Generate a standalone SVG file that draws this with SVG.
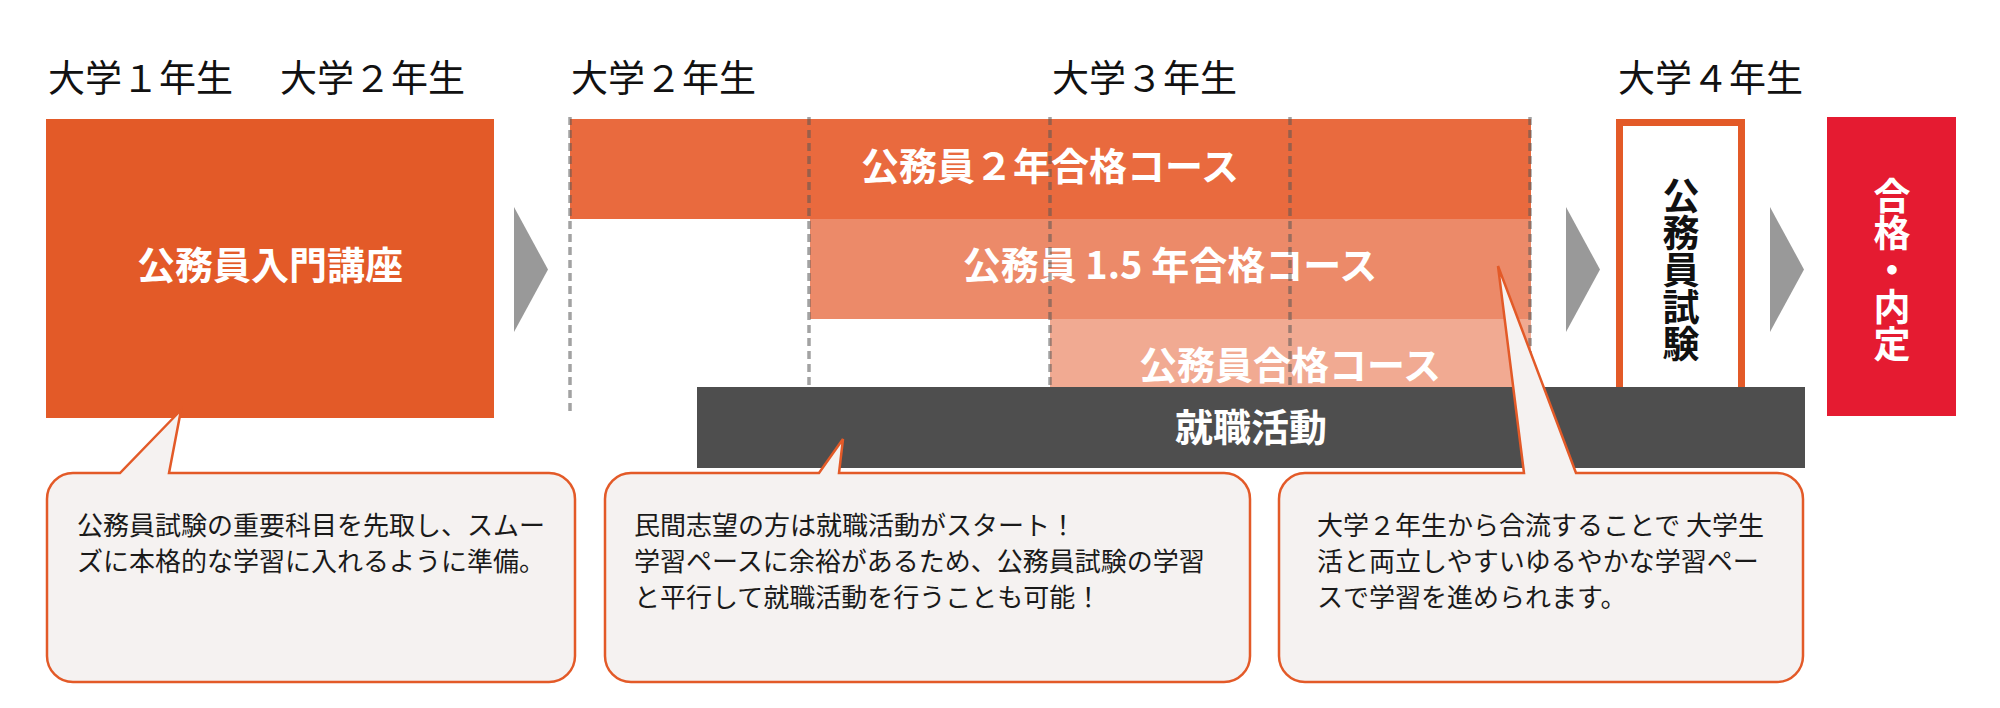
<svg xmlns="http://www.w3.org/2000/svg" width="2000" height="708" viewBox="0 0 2000 708">
<style>
text{font-family:"Noto Sans CJK JP","Noto Sans",sans-serif}
.yr{font-size:37px;fill:#111}
.lbl{font-size:38px;font-weight:700;fill:#fff;text-anchor:middle}
.vt{font-size:37px;font-weight:700;writing-mode:vertical-rl}
.note{font-size:26px;fill:#1a1a1a}
.arrow{fill:#999}
.dash{stroke:#555;stroke-opacity:.55;stroke-width:3.5;stroke-dasharray:8 5;fill:none}
.callout{fill:#F5F2F1;stroke:#E35A28;stroke-width:2.5;stroke-linejoin:miter}
</style>
<rect width="2000" height="708" fill="#fff"/>
<g id="years">
<text class="yr" x="48" y="92">大学１年生</text>
<text class="yr" x="280" y="92">大学２年生</text>
<text class="yr" x="571" y="92">大学２年生</text>
<text class="yr" x="1052" y="92">大学３年生</text>
<text class="yr" x="1618" y="92">大学４年生</text>
</g>
<g id="node-intro">
<rect x="46" y="119" width="448" height="299" fill="#E35A28"/>
<text class="lbl" x="270" y="279">公務員入門講座</text>
</g>
<g id="connectors">
<polygon class="arrow" points="514,207 548,269.5 514,332"/>
<polygon class="arrow" points="1566,207 1600,269.5 1566,332"/>
<polygon class="arrow" points="1770,207 1804,269.5 1770,332"/>
</g>
<g id="node-course2">
<rect x="570" y="119" width="961" height="100" fill="#E96A3E"/>
<text class="lbl" x="1050" y="180">公務員２年合格コース</text>
</g>
<g id="node-course15">
<rect x="810" y="219" width="721" height="100" fill="#EC8A69"/>
<text class="lbl" x="1170" y="279">公務員 1.5 年合格コース</text>
</g>
<g id="node-course">
<rect x="1050" y="319" width="481" height="68" fill="#F1AA92"/>
<text class="lbl" x="1290" y="379">公務員合格コース</text>
</g>
<g id="gridlines">
<line class="dash" x1="570" y1="117" x2="570" y2="416"/>
<line class="dash" x1="809" y1="117" x2="809" y2="387"/>
<line class="dash" x1="1050" y1="117" x2="1050" y2="387"/>
<line class="dash" x1="1290" y1="117" x2="1290" y2="387"/>
<line class="dash" x1="1530" y1="117" x2="1530" y2="387"/>
</g>
<g id="node-exam">
<rect x="1619.5" y="122.5" width="122" height="280" fill="#fff" stroke="#E35A28" stroke-width="7"/>
<text class="vt" x="1681" y="177" fill="#111">公務員試験</text>
</g>
<g id="node-job">
<rect x="697" y="387" width="1108" height="81" fill="#4E4E4E"/>
<text class="lbl" x="1251" y="441">就職活動</text>
</g>
<g id="node-pass">
<rect x="1827" y="117" width="129" height="299" fill="#E51B31"/>
<text class="vt" x="1892" y="177" fill="#fff">合格・内定</text>
</g>
<g id="callout-1">
<path class="callout" d="M73,473 L120,473 L181,410 L169,473 L549,473 A26,26 0 0 1 575,499 L575,656 A26,26 0 0 1 549,682 L73,682 A26,26 0 0 1 47,656 L47,499 A26,26 0 0 1 73,473 Z"/>
<text class="note" x="77" y="535">公務員試験の重要科目を先取し、スムー</text>
<text class="note" x="77" y="571">ズに本格的な学習に入れるように準備。</text>
</g>
<g id="callout-2">
<path class="callout" d="M631,473 L819,473 L843,439 L839,473 L1224,473 A26,26 0 0 1 1250,499 L1250,656 A26,26 0 0 1 1224,682 L631,682 A26,26 0 0 1 605,656 L605,499 A26,26 0 0 1 631,473 Z"/>
<text class="note" x="634" y="535">民間志望の方は就職活動がスタート！</text>
<text class="note" x="634" y="571">学習ペースに余裕があるため、公務員試験の学習</text>
<text class="note" x="634" y="607">と平行して就職活動を行うことも可能！</text>
</g>
<g id="callout-3">
<path class="callout" d="M1305,473 L1524,473 L1498,266 L1576,473 L1777,473 A26,26 0 0 1 1803,499 L1803,656 A26,26 0 0 1 1777,682 L1305,682 A26,26 0 0 1 1279,656 L1279,499 A26,26 0 0 1 1305,473 Z"/>
<text class="note" x="1317" y="535">大学２年生から合流することで 大学生</text>
<text class="note" x="1317" y="571">活と両立しやすいゆるやかな学習ペー</text>
<text class="note" x="1317" y="607">スで学習を進められます。</text>
</g>
</svg>
